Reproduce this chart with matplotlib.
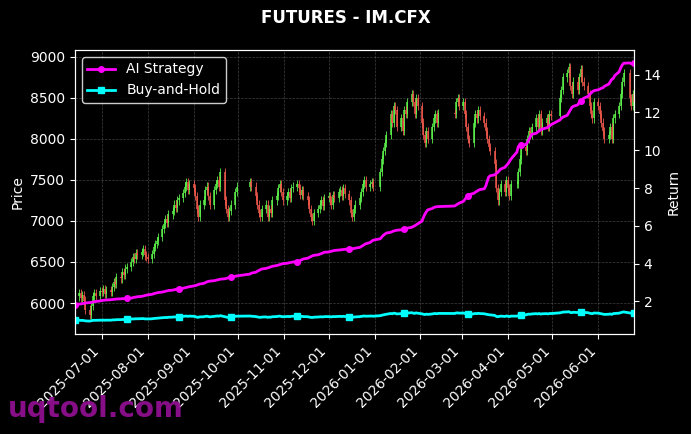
import matplotlib
matplotlib.use("Agg")
import matplotlib.pyplot as plt
import matplotlib.dates as mdates
import numpy as np
import pandas as pd

# trading-day closes, month by month (IM.CFX)
close_2025_06 = [6080, 6120, 6060, 6100, 6030, 5920, 5850, 5960, 6080, 6120, 6090, 6150]
close_2025_07 = [6130, 6170, 6110, 6160, 6140, 6200, 6260, 6230, 6320, 6300, 6380, 6340,
                 6420, 6440, 6500, 6560, 6540, 6610, 6590, 6620, 6660, 6580, 6560]
close_2025_08 = [6540, 6600, 6680, 6720, 6760, 6800, 6900, 6960, 7020, 6980, 7080, 7120,
                 7200, 7160, 7250, 7280, 7340, 7420, 7480, 7380, 7450]
close_2025_09 = [7400, 7300, 7150, 7050, 7200, 7250, 7380, 7420, 7300, 7200, 7380, 7450,
                 7500, 7420, 7600, 7250, 7150, 7050, 7120, 7200, 7350, 7420]
close_2025_10 = [7480, 7420, 7300, 7200, 7100, 7050, 7150, 7200, 7050, 7150, 7100, 7250,
                 7300, 7400, 7450, 7350, 7250]
close_2025_11 = [7300, 7350, 7280, 7400, 7420, 7450, 7400, 7320, 7380, 7300, 7250, 7150,
                 7050, 7000, 7100, 7150, 7200, 7250, 7180, 7280]
close_2025_12 = [7300, 7250, 7200, 7320, 7280, 7350, 7380, 7300, 7400, 7330, 7250, 7100,
                 7050, 7150, 7200, 7280, 7350, 7450, 7500, 7420, 7450, 7480, 7420]
close_2026_01 = [7600, 7750, 7850, 7950, 8050, 8300, 8200, 8400, 8350, 8150, 8250, 8100,
                 8350, 8300, 8450, 8550, 8450, 8300, 8500, 8400]
close_2026_02 = [8200, 8050, 7950, 8100, 8000, 8150, 8250, 8300, 8200, 8320, 8300, 8450,
                 8500, 8400]
close_2026_03 = [8450, 8300, 8150, 8000, 7950, 8200, 8300, 8250, 8350, 8280, 8200, 8100,
                 8000, 7900, 7850, 7700, 7400, 7250, 7350, 7450, 7350, 7500]
close_2026_04 = [7400, 7300, 7450, 7450, 7600, 7750, 7900, 7850, 8000, 8100, 8050, 8150,
                 8250, 8150, 8300, 8100, 8200, 8250, 8150, 8300, 8280]
close_2026_05 = [8500, 8600, 8750, 8800, 8880, 8650, 8550, 8700, 8600, 8750, 8850, 8700,
                 8650, 8550, 8400, 8300, 8250, 8450]
close_2026_06 = [8400, 8300, 8200, 8100, 8000, 8050, 8150, 8000, 8250, 8300, 8400, 8550,
                 8700, 8800, 8500, 8400, 8550, 8450]

# AI strategy cumulative return, same trading days
ai_2025_06 = [1.84, 1.86, 1.87, 1.89, 1.90, 1.92, 1.94, 1.95, 1.97, 1.99, 2.00, 2.03]
ai_2025_07 = [2.05, 2.06, 2.07, 2.08, 2.09, 2.10, 2.11, 2.12, 2.13, 2.14, 2.15, 2.15,
              2.16, 2.16, 2.18, 2.20, 2.22, 2.23, 2.25, 2.27, 2.29, 2.31, 2.33]
ai_2025_08 = [2.35, 2.38, 2.41, 2.43, 2.45, 2.47, 2.50, 2.52, 2.54, 2.56, 2.58, 2.60,
              2.62, 2.64, 2.66, 2.68, 2.70, 2.72, 2.74, 2.76, 2.78]
ai_2025_09 = [2.82, 2.84, 2.86, 2.89, 2.92, 2.96, 3.00, 3.04, 3.06, 3.08, 3.10, 3.12,
              3.14, 3.16, 3.18, 3.20, 3.22, 3.24, 3.27, 3.30, 3.33, 3.35]
ai_2025_10 = [3.45, 3.50, 3.55, 3.60, 3.64, 3.68, 3.72, 3.75, 3.78, 3.80, 3.83, 3.86,
              3.90, 3.92, 3.95, 3.97, 4.00]
ai_2025_11 = [4.02, 4.04, 4.06, 4.07, 4.09, 4.10, 4.13, 4.17, 4.21, 4.25, 4.29, 4.33,
              4.37, 4.41, 4.44, 4.47, 4.50, 4.53, 4.56, 4.60]
ai_2025_12 = [4.62, 4.64, 4.66, 4.68, 4.70, 4.72, 4.73, 4.74, 4.75, 4.76, 4.77, 4.78,
              4.79, 4.80, 4.82, 4.86, 4.90, 4.95, 5.00, 5.05, 5.12, 5.18, 5.24]
ai_2026_01 = [5.32, 5.42, 5.50, 5.56, 5.62, 5.66, 5.70, 5.73, 5.75, 5.77, 5.79, 5.81,
              5.83, 5.85, 5.88, 5.92, 5.96, 6.00, 6.05, 6.10]
ai_2026_02 = [6.25, 6.45, 6.62, 6.75, 6.85, 6.92, 6.97, 7.00, 7.01, 7.02, 7.05, 7.10,
              7.15, 7.20]
ai_2026_03 = [7.30, 7.40, 7.52, 7.60, 7.66, 7.72, 7.78, 7.83, 7.88, 7.92, 7.96, 8.10,
              8.35, 8.58, 8.65, 8.70, 8.76, 8.82, 8.91, 9.00, 9.10, 9.20]
ai_2026_04 = [9.28, 9.40, 9.53, 9.90, 10.20, 10.24, 10.27, 10.30, 10.40, 10.55, 10.70,
              10.84, 10.90, 10.96, 11.02, 11.08, 11.12, 11.18, 11.22, 11.28, 11.35]
ai_2026_05 = [11.60, 11.68, 11.75, 11.85, 11.98, 12.12, 12.26, 12.32, 12.40, 12.50,
              12.58, 12.66, 12.75, 12.85, 12.95, 13.02, 13.10, 13.15]
ai_2026_06 = [13.20, 13.24, 13.28, 13.30, 13.38, 13.50, 13.62, 13.75, 13.80, 13.95,
              14.15, 14.35, 14.50, 14.60, 14.62, 14.58, 14.55, 14.60]

# exchange holidays (no trading)
holidays = ["2025-10-01", "2025-10-02", "2025-10-03", "2025-10-06", "2025-10-07",
            "2025-10-08", "2026-01-01", "2026-01-02", "2026-02-16", "2026-02-17",
            "2026-02-18", "2026-02-19", "2026-02-20", "2026-02-23", "2026-04-06",
            "2026-05-01", "2026-05-04", "2026-05-05", "2026-06-19"]

closes = (close_2025_06 + close_2025_07 + close_2025_08 + close_2025_09 + close_2025_10 +
          close_2025_11 + close_2025_12 + close_2026_01 + close_2026_02 + close_2026_03 +
          close_2026_04 + close_2026_05 + close_2026_06)
ai = (ai_2025_06 + ai_2025_07 + ai_2025_08 + ai_2025_09 + ai_2025_10 + ai_2025_11 +
      ai_2025_12 + ai_2026_01 + ai_2026_02 + ai_2026_03 + ai_2026_04 + ai_2026_05 +
      ai_2026_06)

days = pd.bdate_range("2025-06-13", "2026-06-25")
days = days[~days.isin(pd.to_datetime(holidays))]
n = min(len(days), len(closes), len(ai))
days = days[:n]
closes = np.array(closes[:n], dtype=float)
ai = np.array(ai[:n])
opens = np.r_[closes[0], closes[:-1]]
buyhold = closes / closes[0]

plt.style.use("dark_background")
fig = plt.figure(figsize=(6.91, 4.34), dpi=100)
ax = fig.add_axes([0.1085, 0.2304, 0.809, 0.6544])

x = mdates.date2num(days)
up = closes >= opens
wick = 50
for mask, col in [(up, "#5cf24a"), (~up, "#f0584c")]:
    lo = np.minimum(opens, closes)[mask]
    hi = np.maximum(opens, closes)[mask]
    ax.vlines(x[mask], lo - wick, hi + wick, color=col, linewidth=0.7, alpha=0.85)
    ax.vlines(x[mask], lo, hi, color=col, linewidth=1.3, alpha=0.85)

ax.set_ylim(5622, 9085)
ax.set_xlim(x[0], x[-1])
ax.set_ylabel("Price", fontsize=10)
ax.grid(True, linestyle="--", linewidth=0.5, color="gray", alpha=0.5)
ax.xaxis.set_major_locator(mdates.MonthLocator())
ax.xaxis.set_major_formatter(mdates.DateFormatter("%Y-%m-%d"))
plt.setp(ax.get_xticklabels(), rotation=45, ha="right")

ax2 = ax.twinx()
ax2.plot(x, ai, color="magenta", linewidth=2, marker="o", markersize=4,
         markevery=25, label="AI Strategy")
ax2.plot(x, buyhold, color="cyan", linewidth=2, marker="s", markersize=4,
         markevery=25, label="Buy-and-Hold")
ax2.set_ylabel("Return", fontsize=10)
ax2.set_xlim(x[0], x[-1])
ax2.legend(loc="upper left", facecolor="black", edgecolor="white", fontsize=10)

fig.suptitle("FUTURES - IM.CFX", fontsize=12, fontweight="bold", y=0.958, va="center")
fig.text(0.012, 0.04, "uqtool.com", color="#8e0f8e", fontsize=20, fontweight="bold",
         alpha=0.95)

fig.savefig("out.png", dpi=100, facecolor="black")
